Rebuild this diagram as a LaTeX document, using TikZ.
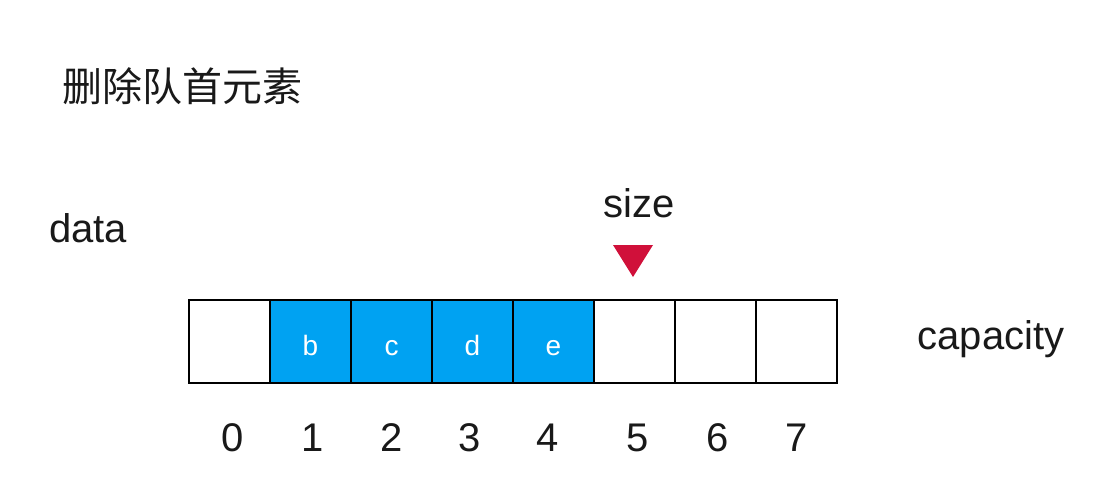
\documentclass[tikz,border=0pt]{standalone}
\usepackage{fontspec}
\setmainfont{Liberation Sans}
\newfontfamily\cjk{Noto Sans CJK SC}
\usetikzlibrary{positioning}
\definecolor{cellblue}{RGB}{0,162,242}
\definecolor{markred}{RGB}{208,16,58}

\begin{document}
\begin{tikzpicture}[x=0.5pt,y=-0.5pt,node distance=40.5pt,
  cell/.style={rectangle,draw=black,line width=0.9pt,minimum width=40.5pt,minimum height=41.5pt,inner sep=0pt},
  full/.style={cell,fill=cellblue,text=white,font=\fontsize{14}{16}\selectfont,text height=13.5pt,text depth=0pt},
  lbl/.style={font=\fontsize{20}{24}\selectfont,text=black!90,inner sep=0pt}]
  \useasboundingbox (0,0) rectangle (1114,492);

  \node[lbl,anchor=west] (title) at (62,86) {\cjk 删除队首元素};
  \node[lbl] (data) at (88,228) {data};
  \node[lbl] (capacity) at (991,339) {capacity};
  \node[lbl] (size) at (639,203) {size};

  \node[cell] (c0) at (229.5,341.5) {};
  \node[full] (c1) [right of=c0] {b};
  \node[full] (c2) [right of=c1] {c};
  \node[full] (c3) [right of=c2] {d};
  \node[full] (c4) [right of=c3] {e};
  \node[cell] (c5) [right of=c4] {};
  \node[cell] (c6) [right of=c5] {};
  \node[cell] (c7) [right of=c6] {};

  \node[lbl] (i0) at (233,438) {0};
  \node[lbl] (i1) at (313,438) {1};
  \node[lbl] (i2) at (392,438) {2};
  \node[lbl] (i3) at (470,438) {3};
  \node[lbl] (i4) at (548,438) {4};
  \node[lbl] (i5) at (638,438) {5};
  \node[lbl] (i6) at (718,438) {6};
  \node[lbl] (i7) at (797,438) {7};

  % size marker
  \fill[markred] (613,245) -- (653,245) -- (633,277) -- cycle;
\end{tikzpicture}
\end{document}
